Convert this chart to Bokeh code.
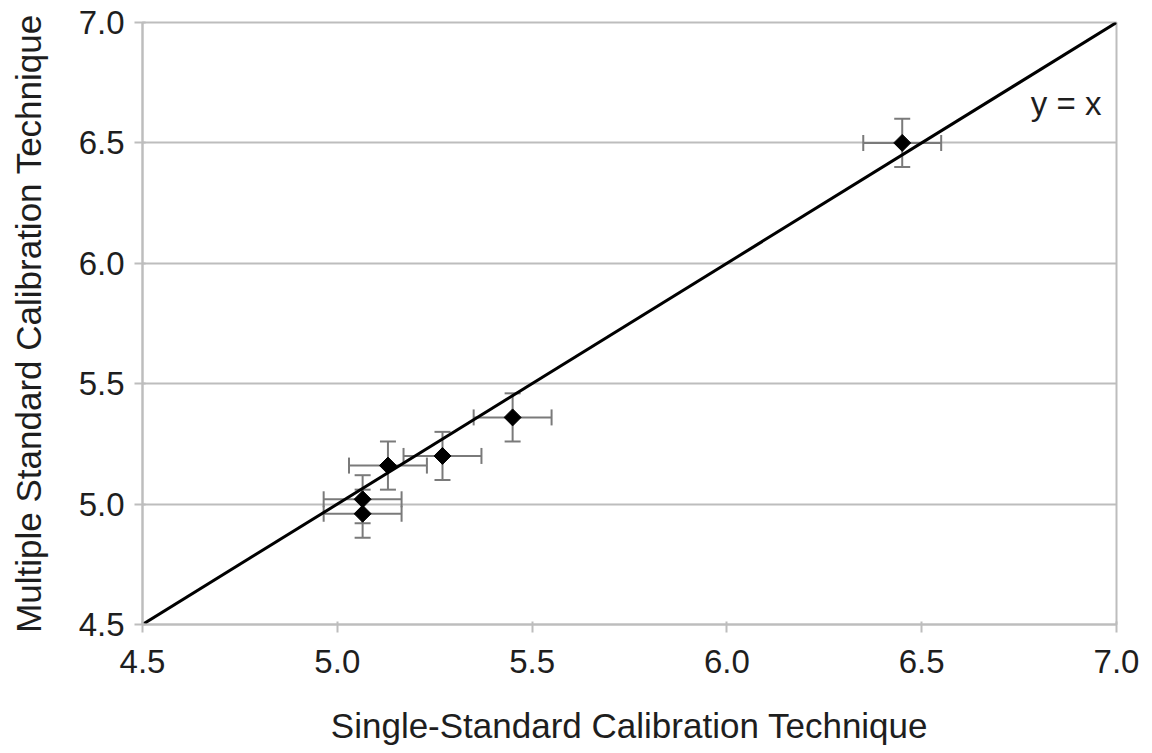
import math
from bokeh.plotting import figure
from bokeh.models import (ColumnDataSource, Whisker, TeeHead, Range1d, FixedTicker, Label,
                          NumeralTickFormatter)
from bokeh.embed import file_html
from bokeh.resources import INLINE

# Measured pH values: single-standard (x) vs multiple-standard (y) calibration
single_std = [5.065, 5.065, 5.13, 5.27, 5.45, 6.45]
multi_std = [4.96, 5.02, 5.16, 5.20, 5.36, 6.50]
x_err = [0.10, 0.10, 0.10, 0.10, 0.10, 0.10]
y_err = [0.10, 0.10, 0.10, 0.10, 0.10, 0.10]
ticks = [4.5, 5.0, 5.5, 6.0, 6.5, 7.0]
identity = [4.5, 7.0]

FONT = "Liberation Sans"
GRID = "#bdbdbd"
TEXT = "#1e1e1e"
BAR = "#7a7a7a"

src = ColumnDataSource(dict(
    x=single_std, y=multi_std,
    xlo=[a - e for a, e in zip(single_std, x_err)],
    xhi=[a + e for a, e in zip(single_std, x_err)],
    ylo=[a - e for a, e in zip(multi_std, y_err)],
    yhi=[a + e for a, e in zip(multi_std, y_err)],
))

p = figure(width=1152, height=753, output_backend="svg", toolbar_location=None,
           x_range=Range1d(4.5, 7.0), y_range=Range1d(4.5, 7.0),
           min_border_left=142, min_border_right=36, min_border_top=22,
           min_border_bottom=129)

p.outline_line_color = GRID
p.outline_line_width = 2
p.background_fill_color = "white"
p.border_fill_color = "white"

p.xgrid.grid_line_color = None
p.ygrid.grid_line_color = GRID
p.ygrid.grid_line_width = 2

for ax in (p.xaxis[0], p.yaxis[0]):
    ax.ticker = FixedTicker(ticks=ticks)
    ax.formatter = NumeralTickFormatter(format="0.0")
    ax.axis_line_color = GRID
    ax.axis_line_width = 2
    ax.major_tick_line_color = GRID
    ax.major_tick_line_width = 2
    ax.major_tick_out = 8
    ax.major_tick_in = 3
    ax.minor_tick_line_color = None
    ax.major_label_text_font = FONT
    ax.major_label_text_font_size = "33px"
    ax.major_label_text_color = TEXT
    ax.axis_label_text_font = FONT
    ax.axis_label_text_font_size = "35px"
    ax.axis_label_text_font_style = "normal"
    ax.axis_label_text_color = TEXT

p.xaxis[0].major_label_standoff = 17
p.xaxis[0].axis_label_standoff = 30
p.yaxis[0].major_label_standoff = 10
p.yaxis[0].axis_label_standoff = 28
p.xaxis.axis_label = "Single-Standard Calibration Technique"
p.yaxis.axis_label = "Multiple Standard Calibration Technique"

# y = x reference line
p.line(identity, identity, line_color="black", line_width=3)

# error bars
p.add_layout(Whisker(source=src, base="y", lower="xlo", upper="xhi", dimension="width",
                     line_color=BAR, line_width=2,
                     upper_head=TeeHead(size=16, line_color=BAR, line_width=2),
                     lower_head=TeeHead(size=16, line_color=BAR, line_width=2)))
p.add_layout(Whisker(source=src, base="x", lower="ylo", upper="yhi", dimension="height",
                     line_color=BAR, line_width=2,
                     upper_head=TeeHead(size=16, line_color=BAR, line_width=2),
                     lower_head=TeeHead(size=16, line_color=BAR, line_width=2)))

# data points as rotated squares (diamonds)
p.scatter("x", "y", source=src, marker="square", size=12, angle=math.pi / 4,
          fill_color="black", line_color="black", line_width=1)

p.add_layout(Label(x=6.78, y=6.665, text="y = x", text_font=FONT, text_font_size="33px",
                   text_color=TEXT, text_baseline="middle"))

open("out.html", "w").write(file_html(p, INLINE))
